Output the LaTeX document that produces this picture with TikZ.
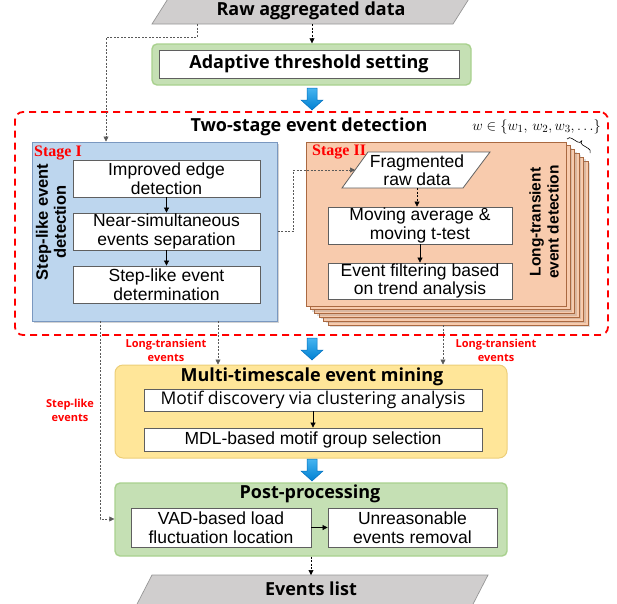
\documentclass[tikz,border=0pt]{standalone}
\usepackage{fontspec}
\setmainfont{Liberation Sans}
\newfontfamily\headfont{Open Sans}
\newfontfamily\stagefont{Liberation Serif}
\usetikzlibrary{arrows.meta,shadows}

\definecolor{datagray}{RGB}{208,206,206}
\definecolor{databorder}{RGB}{150,150,150}
\definecolor{greenfill}{RGB}{197,224,180}
\definecolor{greenline}{RGB}{169,209,142}
\definecolor{bluefill}{RGB}{189,214,238}
\definecolor{blueline}{RGB}{122,152,192}
\definecolor{orangefill}{RGB}{248,203,173}
\definecolor{orangeline}{RGB}{170,105,65}
\definecolor{yellowfill}{RGB}{255,230,153}
\definecolor{yellowline}{RGB}{236,206,120}
\definecolor{arrowtop}{RGB}{70,180,240}
\definecolor{arrowbot}{RGB}{0,128,210}
\definecolor{arrowline}{RGB}{0,110,190}
\definecolor{boxline}{RGB}{95,95,95}

\tikzset{
  tip/.style={-{Triangle[length=5pt,width=5pt]}},
  flowline/.style={tip, black, line width=0.7pt},
  dashflow/.style={tip, black, line width=0.6pt, dash pattern=on 2pt off 1.5pt},
  dotflow/.style={black!65, line width=0.6pt, dash pattern=on 2pt off 1.5pt},
  databox/.style={fill=datagray, draw=databorder, line width=0.7pt},
  greenbox/.style={draw=greenline, fill=greenfill, line width=1.4pt, rounded corners=5pt},
  yellowbox/.style={draw=yellowline, fill=yellowfill, line width=1pt, rounded corners=8pt},
  bluebox/.style={draw=blueline, fill=bluefill, line width=1pt,
    drop shadow={shadow xshift=2pt, shadow yshift=-2pt, opacity=0.35}},
  orangebox/.style={draw=orangeline, fill=orangefill, line width=0.8pt},
  whitebox/.style={draw=boxline, fill=white, line width=0.8pt, inner sep=0pt, align=center,
    font=\fontsize{17.5}{18.5}\selectfont},
  headtext/.style={font=\headfont\bfseries\fontsize{18}{20}\selectfont},
  sidetext/.style={rotate=90, align=center, font=\bfseries\fontsize{16.5}{18}\selectfont},
  redlabel/.style={text=red, align=center, font=\headfont\bfseries\fontsize{11}{14}\selectfont},
  stagelabel/.style={text=red, anchor=west, inner sep=0pt, font=\stagefont\bfseries\fontsize{16}{18}\selectfont},
  bigarrow/.pic={
    \path[top color=arrowtop, bottom color=arrowbot, draw=arrowline, line width=0.5pt]
      (-5,0) -- (5,0) -- (5,12) -- (11,12) -- (0,22) -- (-11,12) -- (-5,12) -- cycle;
  }
}

\begin{document}
\begin{tikzpicture}[x=1pt,y=-1pt]
\useasboundingbox (0,0) rectangle (617,603);
\clip (0,0) rectangle (617,603);

% input data (runs off the top edge)
\path[databox] (152,24) -- (453,24) -- (472,-6) -- (171,-6) -- cycle;
\node[headtext, inner sep=0pt] (raw) at (311,11) {Raw aggregated data};
\coordinate (rawB) at (312,24);
\coordinate (rawBL) at (197,24);

% adaptive threshold
\node[greenbox, minimum width=319, minimum height=41, inner sep=0pt] (adapt) at (311.5,64.5) {};
\node[whitebox, minimum width=300, minimum height=28] (adaptin) at (309,64)
  {\headfont\bfseries\fontsize{18}{20}\selectfont Adaptive threshold setting};
\draw[dashflow] (rawB) -- (rawB |- adapt.north);

% two-stage detection frame
\node[draw=red, line width=1.8pt, dash pattern=on 7pt off 5pt, rounded corners=8pt,
      minimum width=593, minimum height=223, inner sep=0pt] (two) at (311.5,223.5) {};
\node[headtext] (twotitle) at (309,127) {Two-stage event detection};
\node[anchor=east, inner sep=0pt, font=\fontsize{15}{18}\selectfont] (wset) at (601,127)
  {$w\in\{w_1,\,w_2,w_3,\ldots\}$};
\pic at (312,88) {bigarrow};

% stage I
\node[bluebox, minimum width=245, minimum height=179, inner sep=0pt] (st1) at (154.5,231.5) {};
\node[stagelabel] (st1lab) at (34,153) {Stage I};
\node[sidetext] (st1side) at (51,222) {Step-like event\\detection};
\node[whitebox, minimum width=187, minimum height=37] (s1) at (166.5,178.5) {Improved edge\\detection};
\node[whitebox, minimum width=187, minimum height=37] (s2) at (166.5,231.5) {Near-simultaneous\\events separation};
\node[whitebox, minimum width=187, minimum height=37] (s3) at (166.5,284.5) {Step-like event\\determination};
\draw[flowline] (s1) -- (s2);
\draw[flowline] (s2) -- (s3);

% raw data also feeds stage I directly
\draw[dotflow, tip] (rawBL) |- (106,37) -- (106,0 |- st1.north);

% stage II: stacked copies, one per window length
\foreach \k in {5,4,3,2,1}{
  \draw[orangebox, drop shadow={shadow xshift=2pt, shadow yshift=-2pt, opacity=0.25}]
    (306+4.4*\k,142+3.8*\k) rectangle ++(260,164);
}
\node[orangebox, minimum width=260, minimum height=164, inner sep=0pt] (st2) at (436,224) {};
% brace over the stacked copies
\begin{scope}[shift={(567,139)}, rotate=-31.3]
  \draw[line width=0.6pt]
    (0,0) .. controls (0.5,-2.5) and (2,-3) .. (4,-3) -- (10.5,-3)
    .. controls (12.5,-3) and (13.5,-4) .. (13.5,-6)
    .. controls (13.5,-4) and (14.5,-3) .. (16.5,-3) -- (23,-3)
    .. controls (25,-3) and (26.5,-2.5) .. (27,0);
\end{scope}
\node[stagelabel] (st2lab) at (312,152) {Stage II};
\path[draw=boxline, fill=white, line width=0.8pt]
  (342,188) -- (463,188) -- (490,152) -- (368,152) -- cycle;
\node[align=center, inner sep=0pt, font=\fontsize{17.5}{18.5}\selectfont] (frag) at (417,170) {Fragmented\\raw data};
\coordinate (fragL) at (355,170);
\coordinate (fragB) at (417,188);
\node[whitebox, minimum width=184, minimum height=37] (m1) at (420,225.5) {Moving average \&\\moving t-test};
\node[whitebox, minimum width=184, minimum height=36] (m2) at (420,281) {Event filtering based\\on trend analysis};
\node[sidetext, font=\bfseries\fontsize{15.5}{18}\selectfont] (st2side) at (544,222) {Long-transient\\event detection};
\draw[dashflow] (fragB) -- (fragB |- m1.north);
\draw[flowline] (m1) -- (m2);
\draw[dotflow, tip] (st1.east |- s2) -- ++(16,0) |- (fragL);

% multi-timescale mining
\pic at (312,338) {bigarrow};
\node[yellowbox, minimum width=392, minimum height=93, inner sep=0pt] (multi) at (311,411.5) {};
\node[headtext] (multititle) at (312,377) {Multi-timescale event mining};
\node[whitebox, minimum width=338, minimum height=22] (motif) at (313,400)
  {\headfont\fontsize{17.5}{20}\selectfont Motif discovery via clustering analysis};
\node[whitebox, minimum width=338, minimum height=23] (mdl) at (313,439.5) {MDL-based motif group selection};
\draw[flowline] (motif) -- (mdl);

% events handed on from the two stages
\coordinate (stepout) at (100,321);
\coordinate (longout1) at (218,321);
\coordinate (longout2) at (443,325);
\draw[dotflow, tip] (longout1) -- (longout1 |- multi.north);
\draw[dotflow, tip] (longout2) -- (longout2 |- multi.north);
\node[redlabel] (lab1) at (166,350) {Long-transient\\events};
\node[redlabel] (lab2) at (496,350) {Long-transient\\events};
\node[redlabel] (lab3) at (70,410) {Step-like\\events};

% post-processing
\pic at (312,459) {bigarrow};
\node[greenbox, minimum width=392, minimum height=73, inner sep=0pt] (post) at (311,519.5) {};
\node[headtext] (posttitle) at (310,494) {Post-processing};
\node[whitebox, minimum width=180, minimum height=39] (vad) at (221,527.5) {VAD-based load\\fluctuation location};
\node[whitebox, minimum width=169, minimum height=39] (unr) at (412.5,527.5) {Unreasonable\\events removal};
\draw[flowline] (vad) -- (unr);
\draw[dotflow, tip] (stepout) -- (100,519) -- (post.west |- 0,519);

% output list (runs off the bottom edge)
\path[databox] (152,575) -- (488,575) -- (471,608) -- (135,608) -- cycle;
\node[headtext, inner sep=0pt] (events) at (311,589) {Events list};
\coordinate (eventsT) at (311,575);
\draw[dashflow] (post.south -| eventsT) -- (eventsT);
\end{tikzpicture}
\end{document}
